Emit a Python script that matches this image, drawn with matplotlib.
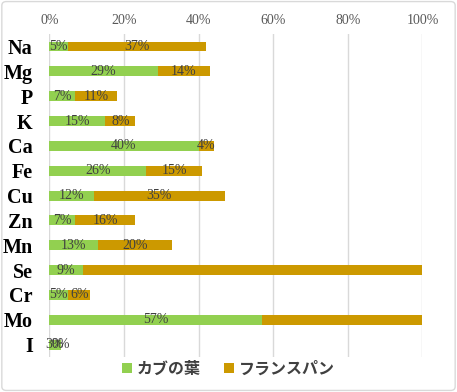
import numpy as np
from matplotlib import pyplot as plt
from matplotlib.patches import FancyBboxPatch

elements = ['Na', 'Mg', 'P', 'K', 'Ca', 'Fe', 'Cu', 'Zn', 'Mn', 'Se', 'Cr', 'Mo', 'I']
kabu = [5, 29, 7, 15, 40, 26, 12, 7, 13, 9, 5, 57, 3]
pan = [37, 14, 11, 8, 4, 15, 35, 16, 20, 195, 6, 95, 0]
series_names = ['カブの葉', 'フランスパン']
colors = ['#92D050', '#CC9900']

fig = plt.figure(figsize=(4.57, 3.92), dpi=100)
ax = fig.add_axes([0.108, 0.089, 0.8165, 0.824])

y = np.arange(len(elements))
h = 0.4
b1 = ax.barh(y, kabu, height=h, color=colors[0], label=series_names[0], zorder=3)
b2 = ax.barh(y, pan, left=kabu, height=h, color=colors[1], label=series_names[1], zorder=3)

# data labels, centred in each segment (hidden if centre falls past the axis)
for i in range(len(elements)):
    for left, w in [(0, kabu[i]), (kabu[i], pan[i])]:
        cx = left + w / 2
        if cx <= 100:
            ax.text(cx, y[i], f'{w}%', ha='center', va='center', fontsize=10,
                    family='Liberation Serif', color='#404040', zorder=4)

ax.set_xlim(0, 100)
ax.set_ylim(len(elements) - 0.5, -0.5)
ax.set_xticks(np.arange(0, 101, 20))
ax.set_xticklabels([f'{t}%' for t in range(0, 101, 20)], family='Liberation Serif',
                   fontsize=10, color='#595959')
ax.xaxis.tick_top()
ax.tick_params(axis='x', length=0, pad=5)
ax.tick_params(axis='y', length=0, pad=12)
ax.set_yticks(y)
ax.set_yticklabels(elements, family='Liberation Serif', fontweight='bold', fontsize=14.5)
ax.grid(axis='x', color='#D9D9D9', linewidth=1, zorder=0)
for s in ax.spines.values():
    s.set_visible(False)

leg = fig.legend(handles=[b1, b2], loc='center', bbox_to_anchor=(0.5, 0.06), ncol=2,
                 frameon=False, handlelength=0.6, handleheight=0.6, handletextpad=0.3,
                 columnspacing=1.5,
                 prop={'family': ['Noto Sans CJK JP', 'DejaVu Sans'], 'weight': 'bold', 'size': 11.5})
for t in leg.get_texts():
    t.set_color('#404040')

fig.patches.append(FancyBboxPatch((0.004, 0.004), 0.992, 0.992, boxstyle='round,pad=0,rounding_size=0.01',
                                  transform=fig.transFigure, fill=False, edgecolor='#D9D9D9', linewidth=1))

fig.savefig('out.png', dpi=100)
